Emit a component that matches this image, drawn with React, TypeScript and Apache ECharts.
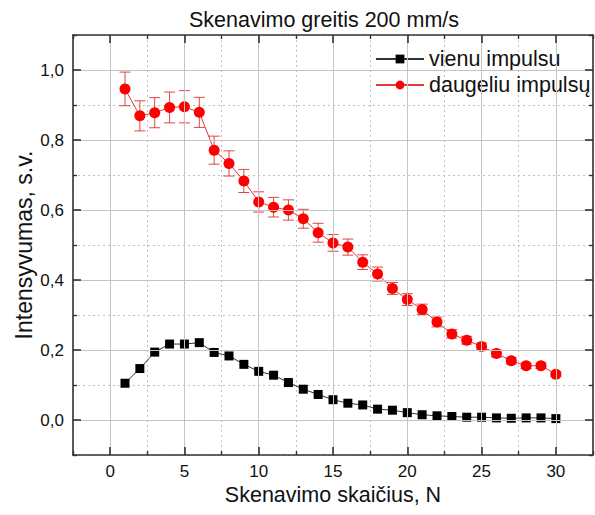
import React, { useEffect, useRef } from "react";
import * as echarts from "echarts";

const xs = [1, 2, 3, 4, 5, 6, 7, 8, 9, 10, 11, 12, 13, 14, 15, 16, 17, 18, 19, 20, 21, 22, 23, 24, 25, 26, 27, 28, 29, 30];
const single = [0.105, 0.147, 0.194, 0.217, 0.217, 0.221, 0.193, 0.183, 0.159, 0.139, 0.128, 0.107, 0.088, 0.073, 0.058, 0.048, 0.043, 0.031, 0.028, 0.021, 0.015, 0.012, 0.010, 0.008, 0.008, 0.006, 0.005, 0.006, 0.006, 0.004];
const multi = [0.946, 0.869, 0.878, 0.893, 0.895, 0.879, 0.771, 0.733, 0.683, 0.623, 0.608, 0.600, 0.575, 0.535, 0.506, 0.494, 0.451, 0.417, 0.376, 0.344, 0.316, 0.280, 0.246, 0.228, 0.210, 0.190, 0.169, 0.155, 0.155, 0.131];
const multiErr = [0.048, 0.043, 0.043, 0.044, 0.046, 0.043, 0.040, 0.036, 0.033, 0.029, 0.028, 0.029, 0.027, 0.027, 0.024, 0.023, 0.021, 0.020, 0.017, 0.017, 0.015, 0.014, 0.012, 0.011, 0.010, 0.010, 0.009, 0.008, 0.008, 0.007];

const xMajor = [0, 5, 10, 15, 20, 25, 30];
const yMajor = [0, 0.2, 0.4, 0.6, 0.8, 1.0];
const xRange = { min: -2.5, max: 32.5 };
const yRange = { min: -0.1, max: 1.1 };
// minor decoration axes: same pixel span, range shifted by half a step so their ticks fall midway
const xMinorRange = { min: 0, max: 35, interval: 5 };
const yMinorRange = { min: 0, max: 1.2, interval: 0.2 };

const FONT = "'Liberation Sans', Arial, sans-serif";
const AXIS_COLOR = "#333";

function majorAxis(kind: "x" | "y", position: string, grid: boolean) {
  const range = kind === "x" ? xRange : yRange;
  const ticks = kind === "x" ? xMajor : yMajor;
  return {
    type: "value",
    ...range,
    position,
    z: 5,
    nameMoveOverlap: false,
    axisLine: { show: true, onZero: false, lineStyle: { color: AXIS_COLOR, width: 1.6 } },
    axisTick: { show: true, inside: true, length: 8, customValues: ticks, lineStyle: { color: AXIS_COLOR, width: 1.6 } },
    axisLabel: { show: false },
    splitLine: { show: grid, lineStyle: { color: "#c4c4c4", width: 1 } },
  } as any;
}

function minorAxis(kind: "x" | "y", position: string, grid: boolean) {
  const range = kind === "x" ? xMinorRange : yMinorRange;
  return {
    type: "value",
    ...range,
    position,
    nameMoveOverlap: false,
    axisLine: { show: false, onZero: false },
    axisTick: { show: true, inside: true, length: 4, lineStyle: { color: AXIS_COLOR, width: 1.4 } },
    axisLabel: { show: false },
    splitLine: { show: grid, lineStyle: { color: "#c0c0c0", width: 1, type: [2, 3] } },
  } as any;
}

export default function App() {
  const ref = useRef<HTMLDivElement>(null);
  useEffect(() => {
    if (!ref.current) return;
    const chart = echarts.init(ref.current, null, { renderer: "svg" });

    const xBottom = majorAxis("x", "bottom", true);
    xBottom.axisLabel = {
      show: true,
      customValues: xMajor,
      fontSize: 17,
      lineHeight: 15,
      margin: 8.5,
      color: "#111",
      fontFamily: FONT,
    };
    xBottom.name = "Skenavimo skaičius, N";
    xBottom.nameLocation = "middle";
    xBottom.nameGap = 30;
    xBottom.nameTextStyle = { fontSize: 21.5, lineHeight: 20, color: "#111", fontFamily: FONT };

    const yLeft = majorAxis("y", "left", true);
    yLeft.axisLabel = {
      show: true,
      customValues: yMajor,
      fontSize: 17,
      margin: 9,
      color: "#111",
      fontFamily: FONT,
      formatter: (v: number) => v.toFixed(1).replace(".", ","),
    };
    yLeft.name = "Intensyvumas, s.v.";
    yLeft.nameLocation = "middle";
    yLeft.nameGap = 38;
    yLeft.nameTextStyle = { fontSize: 23, color: "#111", fontFamily: FONT };

    const option: any = {
      animation: false,
      backgroundColor: "#fff",
      textStyle: { fontFamily: FONT },
      title: {
        text: "Skenavimo greitis 200 mm/s",
        left: 184,
        top: 4,
        textStyle: { fontSize: 21.5, fontWeight: "normal", color: "#111", fontFamily: FONT },
      },
      legend: {
        data: ["vienu impulsu", "daugeliu impulsų"],
        orient: "vertical",
        left: 375,
        top: 48,
        padding: 0,
        itemWidth: 48,
        itemHeight: 11,
        itemGap: 4,
        textStyle: { fontSize: 21.5, lineHeight: 22, color: "#111", fontFamily: FONT },
      },
      grid: { left: 73, right: 2, top: 35, bottom: 60, containLabel: false, outerBoundsMode: "none" },
      xAxis: [
        xBottom,
        minorAxis("x", "bottom", true),
        majorAxis("x", "top", false),
        minorAxis("x", "top", false),
      ],
      yAxis: [
        yLeft,
        minorAxis("y", "left", true),
        majorAxis("y", "right", false),
        minorAxis("y", "right", false),
      ],
      series: [
        {
          type: "custom",
          name: "err",
          xAxisIndex: 0,
          yAxisIndex: 0,
          silent: true,
          z: 1,
          encode: { x: 0, y: 1 },
          data: xs.map((x, i) => [x, multi[i], multiErr[i]]),
          renderItem: (params: any, api: any) => {
            const x = api.value(0);
            const y = api.value(1);
            const e = api.value(2);
            const top = api.coord([x, y + e]);
            const bot = api.coord([x, y - e]);
            const hw = 5.5;
            const style = { stroke: "rgba(215,40,40,0.85)", lineWidth: 1 };
            return {
              type: "group",
              children: [
                { type: "line", shape: { x1: top[0], y1: top[1], x2: bot[0], y2: bot[1] }, style },
                { type: "line", shape: { x1: top[0] - hw, y1: top[1], x2: top[0] + hw, y2: top[1] }, style },
                { type: "line", shape: { x1: bot[0] - hw, y1: bot[1], x2: bot[0] + hw, y2: bot[1] }, style },
              ],
            };
          },
        },
        {
          type: "line",
          name: "vienu impulsu",
          xAxisIndex: 0,
          yAxisIndex: 0,
          z: 3,
          data: xs.map((x, i) => [x, single[i]]),
          symbol: "rect",
          symbolSize: 9,
          itemStyle: { color: "#000" },
          lineStyle: { color: "#333", width: 1 },
        },
        {
          type: "line",
          name: "daugeliu impulsų",
          xAxisIndex: 0,
          yAxisIndex: 0,
          z: 3,
          data: xs.map((x, i) => [x, multi[i]]),
          symbol: "circle",
          symbolSize: 11,
          itemStyle: { color: "#ff0000" },
          lineStyle: { color: "#e23a3a", width: 1 },
        },
      ],
    };
    chart.setOption(option);
    return () => chart.dispose();
  }, []);
  return <div ref={ref} style={{ position: "fixed", left: 0, top: 0, width: 595, height: 515 }} />;
}
